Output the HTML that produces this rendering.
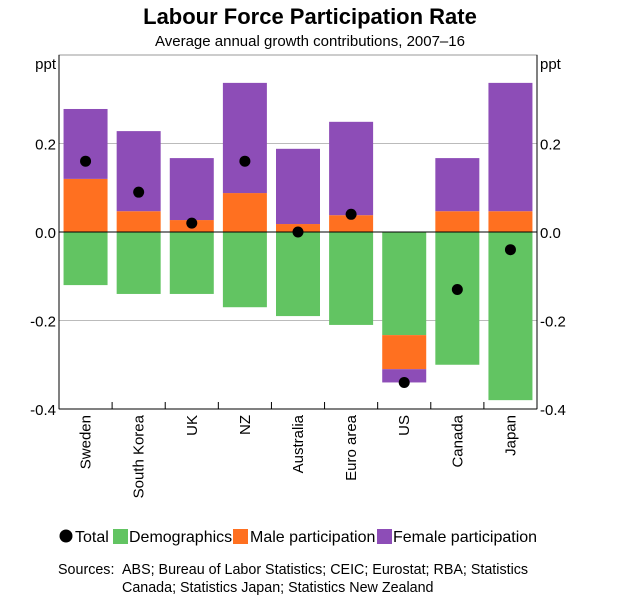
<!DOCTYPE html>
<html><head><meta charset="utf-8"><style>
body{margin:0;background:#fff;font-family:"Liberation Sans",sans-serif}
</style></head><body>
<svg width="619" height="599" font-family="Liberation Sans, sans-serif">
<text x="310" y="24" text-anchor="middle" font-size="22" font-weight="bold">Labour Force Participation Rate</text>
<text x="310" y="46" text-anchor="middle" font-size="15">Average annual growth contributions, 2007–16</text>
<g id="plot"></g>
<g id="legend" font-size="16"></g>
<text x="58" y="574" font-size="14.3">Sources:</text>
<text x="122" y="574" font-size="14.3">ABS; Bureau of Labor Statistics; CEIC; Eurostat; RBA; Statistics</text>
<text x="122" y="592" font-size="14.3">Canada; Statistics Japan; Statistics New Zealand</text>
</svg>
<script>
const categories=["Sweden","South Korea","UK","NZ","Australia","Euro area","US","Canada","Japan"];
const demographics=[-0.12,-0.14,-0.14,-0.17,-0.19,-0.21,-0.233,-0.30,-0.38];
const male=[0.12,0.047,0.027,0.088,0.018,0.038,-0.077,0.047,0.047];
const female=[0.158,0.181,0.14,0.249,0.17,0.211,-0.03,0.12,0.29];
const total=[0.16,0.09,0.02,0.16,0,0.04,-0.34,-0.13,-0.04];
const yTicks=[0.2,0,-0.2,-0.4];
const yTickLabels=["0.2","0.0","-0.2","-0.4"];
const NS="http://www.w3.org/2000/svg";
const L=59,R=537,T=55,B=409;
const y=v=>232-v*442.5;
const bw=(R-L)/categories.length;
const x=i=>L+bw*(i+0.5);
const plot=document.getElementById('plot');
function mk(tag,a,p){const e=document.createElementNS(NS,tag);for(const k in a)e.setAttribute(k,a[k]);(p||plot).appendChild(e);return e;}
let r=mk('rect',{x:L,y:T,width:R-L,height:B-T,fill:'none',stroke:'#999'});


yTicks.forEach((v,i)=>{
 if(v!==0&&v!==-0.4){let g=mk('line',{x1:L,x2:R,y1:y(v),y2:y(v),stroke:'#bbb'});
 
 }
 let t1=mk('text',{x:L-3,y:y(v)+6,'text-anchor':'end','font-size':15});t1.textContent=yTickLabels[i];
 
 
 let t2=mk('text',{x:R+3,y:y(v)+6,'font-size':15});t2.textContent=yTickLabels[i];
 
 
});
let p1=mk('text',{x:L-3,y:T+14,'text-anchor':'end','font-size':15});p1.textContent='ppt';


let p2=mk('text',{x:R+3,y:T+14,'font-size':15});p2.textContent='ppt';


const cols={d:'#62C462',m:'#FF7020',f:'#8D4DB7'};
function bar(i,a,b,c,name){let e=mk('rect',{x:x(i)-22,y:Math.min(y(a),y(b)),width:44,height:Math.abs(y(a)-y(b)),fill:c});
 
 }
categories.forEach((c,i)=>{
 let pos=0,neg=0;
 [[demographics[i],cols.d,'demographics-bar'],[male[i],cols.m,'male-bar'],[female[i],cols.f,'female-bar']].forEach(([v,col,n])=>{
  if(v>=0){bar(i,pos,pos+v,col,n);pos+=v;}else{bar(i,neg,neg+v,col,n);neg+=v;}
 });
});
let z=mk('line',{x1:L,x2:R,y1:y(0),y2:y(0),stroke:'#000'});


let ax=mk('line',{x1:L,x2:R,y1:B,y2:B,stroke:'#000'});


let lx=mk('line',{x1:L,x2:L,y1:T,y2:B,stroke:'#000'});


let rx=mk('line',{x1:R,x2:R,y1:T,y2:B,stroke:'#000'});


categories.forEach((c,i)=>{
 if(i>0){let t=mk('line',{x1:L+bw*i,x2:L+bw*i,y1:B,y2:B-7,stroke:'#000'});
 
 }
 let d=mk('circle',{cx:x(i),cy:y(total[i]),r:5.5,fill:'#000'});
 
 
 let t=mk('text',{x:0,y:0,'text-anchor':'end','font-size':15,transform:`translate(${x(i)+5},${B+6}) rotate(-90)`});t.textContent=c;
 
 
});
const lg=document.getElementById('legend');
const items=[['Total',null,59,75],['Demographics',cols.d,113,129],['Male participation',cols.m,233,250],['Female participation',cols.f,377,393]];
items.forEach(([n,c,lx0,tx])=>{
 let s;
 if(c)s=mk('rect',{x:lx0,y:529,width:15,height:15,fill:c},lg);else s=mk('circle',{cx:lx0+7,cy:536,r:6.5,fill:'#000'},lg);
 
 
 let t=mk('text',{x:tx,y:542},lg);t.textContent=n;
 
 
});
</script>
</body></html>
